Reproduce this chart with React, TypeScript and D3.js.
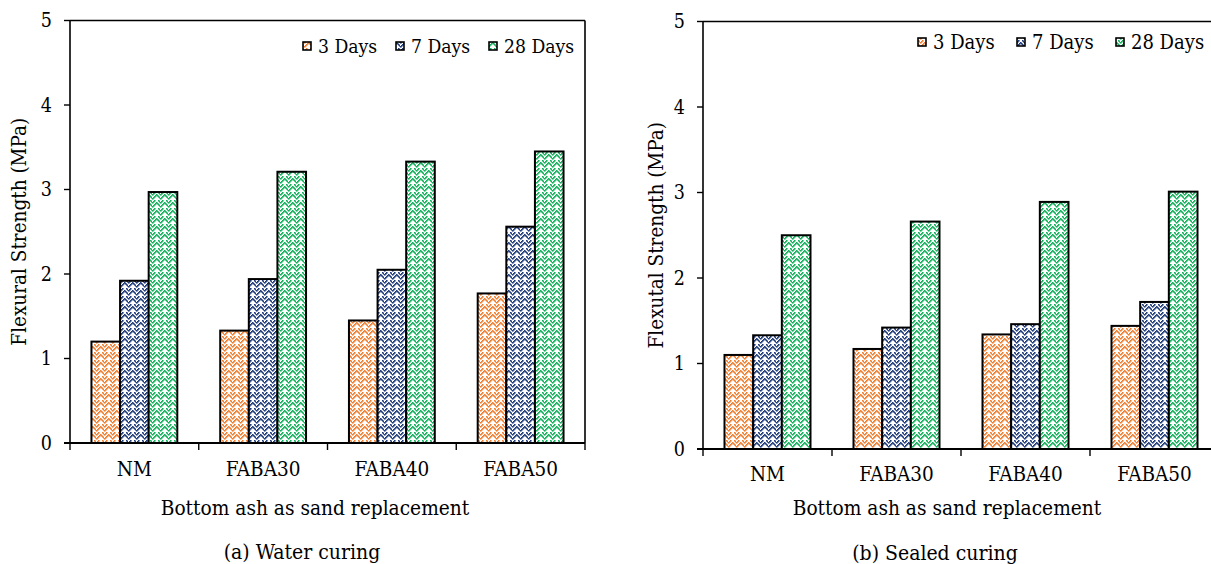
import React from "react";
import * as d3 from "d3";

const categories = ["NM", "FABA30", "FABA40", "FABA50"];
const seriesNames = ["3 Days", "7 Days", "28 Days"];
const seriesColors = ["#EE7D2E", "#1F3A7A", "#10B05A"];

const water3 = [1.2, 1.33, 1.45, 1.77];
const water7 = [1.92, 1.94, 2.05, 2.56];
const water28 = [2.97, 3.21, 3.33, 3.45];

const sealed3 = [1.1, 1.17, 1.34, 1.44];
const sealed7 = [1.33, 1.42, 1.46, 1.72];
const sealed28 = [2.5, 2.66, 2.89, 3.01];

const yTicks = [0, 1, 2, 3, 4, 5];

const FONT = "'DejaVu Serif Condensed', 'DejaVu Serif', serif";

// chevron pixel positions within an 8x8 tile
const chevronPixels: [number, number][] = [
  [0, 6], [1, 5], [2, 4], [3, 3], [4, 2], [5, 3], [6, 4], [7, 5],
  [0, 2], [1, 1], [2, 0], [6, 0], [7, 1],
];

type PanelProps = {
  left: number;
  right: number;
  top: number;
  bottom: number;
  series: number[][];
  yTitle: string;
  yTitleX: number;
  catY: number;
  xTitleY: number;
  xTitleX: number;
  captionY: number;
  captionX: number;
  caption: string;
  legendY: number;
  legendX: number[];
  legendFont: number;
};

function Panel(p: PanelProps) {
  const y = d3.scaleLinear().domain([0, 5]).range([p.bottom, p.top]);
  const x = d3.scaleBand<string>().domain(categories).range([p.left, p.right]).padding(0);
  const xs = d3
    .scaleBand<string>()
    .domain(seriesNames)
    .range([0, x.bandwidth()])
    .paddingInner(0)
    .paddingOuter(0.75);
  const boundaries = categories.map((c) => x(c) as number).concat([p.right]);
  const text = { fontFamily: FONT, fontStretch: "condensed", fill: "#000" } as const;
  return (
    <g>
      {categories.map((c, ci) =>
        seriesNames.map((s, si) => {
          const v = p.series[si][ci];
          const x0 = (x(c) as number) + (xs(s) as number);
          return (
            <rect
              key={c + s}
              x={x0}
              y={y(v)}
              width={xs.bandwidth()}
              height={y(0) - y(v)}
              fill={`url(#pat${si})`}
              stroke="#000"
              strokeWidth={2}
            />
          );
        })
      )}
      <line x1={p.left} x2={p.right} y1={p.top} y2={p.top} stroke="#000" strokeWidth={1.6} />
      <line x1={p.right} x2={p.right} y1={p.top} y2={p.bottom} stroke="#000" strokeWidth={1.6} />
      <line x1={p.left} x2={p.left} y1={p.top} y2={p.bottom} stroke="#000" strokeWidth={1.6} />
      {yTicks.map((t) => (
        <g key={t}>
          <line x1={p.left - 6} x2={p.left} y1={y(t)} y2={y(t)} stroke="#000" strokeWidth={1.4} />
          <text
            x={p.left - 18}
            y={y(t)}
            dy="0.35em"
            textAnchor="end"
            fontSize={19.5}
            style={text}
          >
            {t}
          </text>
        </g>
      ))}
      <line x1={p.left - 6} x2={p.right} y1={p.bottom} y2={p.bottom} stroke="#000" strokeWidth={2} />
      {boundaries.map((b, i) => (
        <line key={i} x1={b} x2={b} y1={p.bottom} y2={p.bottom + 7} stroke="#000" strokeWidth={1.4} />
      ))}
      {categories.map((c) => (
        <text
          key={c}
          x={(x(c) as number) + x.bandwidth() / 2}
          y={p.catY}
          dy="0.35em"
          textAnchor="middle"
          fontSize={20.5}
          style={text}
        >
          {c}
        </text>
      ))}
      <text x={p.xTitleX} y={p.xTitleY} dy="0.35em" textAnchor="middle" fontSize={20.7} style={text}>
        Bottom ash as sand replacement
      </text>
      <text x={p.captionX} y={p.captionY} dy="0.35em" textAnchor="middle" fontSize={21} style={text}>
        {p.caption}
      </text>
      <text
        transform={`translate(${p.yTitleX},${(p.top + p.bottom) / 2}) rotate(-90)`}
        dy="0.35em"
        textAnchor="middle"
        fontSize={20.5}
        style={text}
      >
        {p.yTitle}
      </text>
      {seriesNames.map((s, si) => (
        <g key={s}>
          <rect
            x={p.legendX[si]}
            y={p.legendY - 4}
            width={8}
            height={8}
            fill={`url(#pat${si})`}
            stroke="#000"
            strokeWidth={1.6}
          />
          <text x={p.legendX[si] + 15} y={p.legendY} dy="0.35em" fontSize={p.legendFont} style={text}>
            {s}
          </text>
        </g>
      ))}
    </g>
  );
}

export default function App() {
  return (
    <svg
      width={1211}
      height={564}
      style={{ position: "absolute", left: 0, top: 0, background: "#fff" }}
    >
      <defs>
        {seriesColors.map((col, i) => (
          <pattern key={i} id={`pat${i}`} patternUnits="userSpaceOnUse" width={8} height={8}>
            <rect width={8} height={8} fill="#fff" />
            {chevronPixels.map(([px, py], k) => (
              <rect key={k} x={px} y={py} width={1.6} height={1.6} fill={col} />
            ))}
          </pattern>
        ))}
      </defs>
      <Panel
        left={70}
        right={585}
        top={20.5}
        bottom={443}
        series={[water3, water7, water28]}
        yTitle="Flexural Strength (MPa)"
        yTitleX={19}
        catY={469}
        xTitleY={508}
        xTitleX={315}
        captionY={552}
        captionX={302}
        caption="(a) Water curing"
        legendY={46}
        legendX={[303, 396, 489]}
        legendFont={19.2}
      />
      <Panel
        left={703}
        right={1219}
        top={21.5}
        bottom={449}
        series={[sealed3, sealed7, sealed28]}
        yTitle="Flexutal Strength (MPa)"
        yTitleX={656}
        catY={474}
        xTitleY={508}
        xTitleX={947}
        captionY={553}
        captionX={935}
        caption="(b) Sealed curing"
        legendY={42}
        legendX={[918, 1017, 1116]}
        legendFont={20}
      />
    </svg>
  );
}
